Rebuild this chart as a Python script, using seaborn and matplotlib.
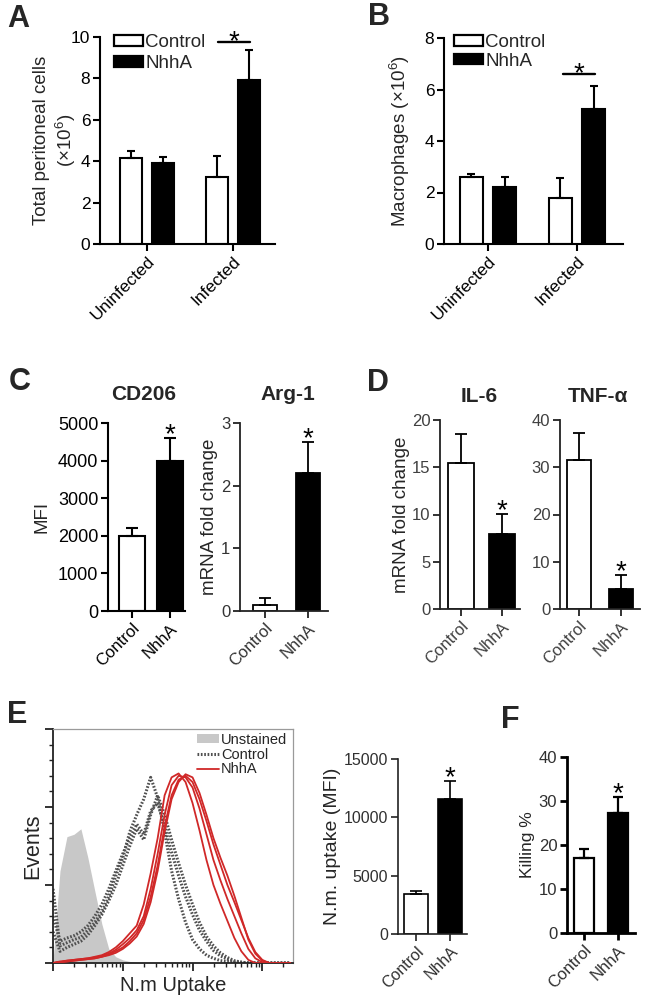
import numpy as np
import pandas as pd
import matplotlib
matplotlib.use("Agg")
import matplotlib.pyplot as plt
from matplotlib.patches import Patch
from matplotlib.lines import Line2D
import seaborn as sns

sns.set_style("ticks")
plt.rcParams["font.family"] = ["Liberation Sans", "DejaVu Sans"]
plt.rcParams["mathtext.default"] = "regular"

# ---------------- data ----------------
INFECTION = ["Uninfected", "Infected"]
GROUPS = ["Control", "NhhA"]

A_CONTROL = [4.14, 3.22]
A_CONTROL_SEM = [0.36, 1.03]
A_NHHA = [3.90, 7.92]
A_NHHA_SEM = [0.29, 1.45]

B_CONTROL = [2.59, 1.80]
B_CONTROL_SEM = [0.11, 0.75]
B_NHHA = [2.20, 5.24]
B_NHHA_SEM = [0.41, 0.91]

CD206 = [1990, 4000]
CD206_SEM = [220, 600]
ARG1 = [0.10, 2.20]
ARG1_SEM = [0.10, 0.50]
IL6 = [15.4, 7.9]
IL6_SEM = [3.1, 2.2]
TNFA = [31.5, 4.2]
TNFA_SEM = [5.8, 2.9]
UPTAKE = [3430, 11550]
UPTAKE_SEM = [280, 1560]
KILLING = [17.0, 27.3]
KILLING_SEM = [2.1, 3.7]

# flow histogram (x in decades of fluorescence, y = events)
HIST_X = [0.0, 0.1, 0.2, 0.3, 0.4, 0.5, 0.6, 0.7, 0.8, 0.9,
          1.0, 1.1, 1.2, 1.3, 1.4, 1.5, 1.6, 1.7, 1.8, 1.9,
          2.0, 2.1, 2.2, 2.3, 2.4, 2.5, 2.6, 2.7, 2.8, 2.9,
          3.0, 3.1, 3.2, 3.3, 3.4]
UNSTAINED = [2, 118, 162, 165, 172, 135, 92, 50, 18, 8,
             4, 2, 1, 0, 0, 0, 0, 0, 0, 0,
             0, 0, 0, 0, 0, 0, 0, 0, 0, 0,
             0, 0, 0, 0, 0]
CONTROL_1 = [95, 22, 26, 30, 33, 42, 52, 66, 85, 112,
             135, 168, 190, 210, 238, 212, 168, 118, 82, 52,
             30, 18, 10, 6, 3, 2, 1, 0, 0, 0,
             0, 0, 0, 0, 0]
CONTROL_2 = [60, 28, 32, 35, 40, 48, 60, 75, 95, 118,
             140, 160, 178, 165, 195, 205, 175, 142, 112, 85,
             62, 42, 28, 16, 9, 5, 2, 1, 0, 0,
             0, 0, 0, 0, 0]
CONTROL_3 = [40, 15, 20, 24, 28, 36, 48, 62, 80, 100,
             125, 150, 172, 158, 190, 215, 190, 158, 128, 100,
             75, 52, 34, 22, 13, 7, 3, 1, 0, 0,
             0, 0, 0, 0, 0]
NHHA_1 = [0, 2, 3, 4, 5, 6, 8, 10, 14, 20,
          28, 38, 48, 75, 115, 160, 215, 238, 243, 232,
          205, 170, 132, 100, 76, 54, 32, 15, 4, 0,
          0, 0, 0, 0, 0]
NHHA_2 = [0, 1, 3, 4, 5, 6, 7, 9, 12, 17,
          24, 32, 42, 60, 95, 140, 190, 228, 240, 238,
          225, 198, 165, 132, 106, 82, 60, 38, 18, 6,
          1, 0, 0, 0, 0]
NHHA_3 = [0, 1, 2, 3, 4, 5, 6, 8, 11, 15,
          20, 28, 38, 55, 85, 125, 175, 215, 235, 240,
          232, 210, 182, 152, 126, 100, 78, 55, 32, 14,
          4, 0, 0, 0, 0]
NHHA_4 = [0, 1, 2, 3, 4, 5, 6, 8, 10, 13,
          18, 25, 34, 50, 78, 118, 168, 210, 232, 242,
          238, 218, 190, 160, 135, 112, 86, 58, 30, 12,
          3, 0, 0, 0, 0]

BAR_COLORS = ["white", "black"]

# ---------------- figure ----------------
W, H = 652, 1002
fig = plt.figure(figsize=(W / 100, H / 100), dpi=100)


def add_ax(x0, y0, x1, y1):
    return fig.add_axes([x0 / W, 1 - y1 / H, (x1 - x0) / W, (y1 - y0) / H])


def style(ax, lw=1.3, color="black", labelcolor="black", size=12):
    sns.despine(ax=ax)
    for s in ["left", "bottom"]:
        ax.spines[s].set_linewidth(lw)
        ax.spines[s].set_color(color)
    ax.tick_params(axis="both", direction="out", length=5, width=lw,
                   color=color, labelcolor=labelcolor, labelsize=size, pad=2)


def add_errors(ax, sems, capsize, lw):
    for cont, s in zip(list(ax.containers), sems):
        for bar, e in zip(cont, s):
            x = bar.get_x() + bar.get_width() / 2
            y = bar.get_height()
            ax.errorbar([x], [y], yerr=[[0], [e]], fmt="none", ecolor="black",
                        elinewidth=lw, capsize=capsize, capthick=lw, zorder=1)


def star(ax, x, y, dy_pt=-3, size=20):
    ax.annotate("*", xy=(x, y), xytext=(0, dy_pt), textcoords="offset points",
                ha="center", va="baseline", fontsize=size, color="black",
                annotation_clip=False)


def grouped_panel(ax, ctrl, ctrl_sem, nhha, nhha_sem):
    df = pd.DataFrame({"infection": INFECTION * 2,
                       "group": [GROUPS[0]] * 2 + [GROUPS[1]] * 2,
                       "value": ctrl + nhha})
    sns.barplot(data=df, x="infection", y="value", hue="group",
                order=INFECTION, hue_order=GROUPS, palette=BAR_COLORS,
                edgecolor="black", linewidth=1.5, width=0.744, gap=0.31,
                errorbar=None, legend=False, ax=ax)
    add_errors(ax, [ctrl_sem, nhha_sem], capsize=3, lw=1.5)


def simple_panel(ax, vals, sems, width, capsize, lw):
    df = pd.DataFrame({"group": GROUPS, "value": vals})
    sns.barplot(data=df, x="group", y="value", hue="group", order=GROUPS,
                hue_order=GROUPS, palette=BAR_COLORS, edgecolor="black",
                linewidth=lw, width=width, errorbar=None, legend=False, ax=ax)
    add_errors(ax, [[s] for s in sems], capsize=capsize, lw=lw)


def rot_labels(ax, labels, size):
    ax.set_xticks(range(len(labels)))
    ax.set_xticklabels(labels, rotation=45, ha="right", rotation_mode="anchor",
                       fontsize=size)


legend_handles = [Patch(facecolor="white", edgecolor="black", linewidth=1.6),
                  Patch(facecolor="black", edgecolor="black", linewidth=1.6)]

# ---- Panel A ----
axA = add_ax(100, 37, 275, 244)
grouped_panel(axA, A_CONTROL, A_CONTROL_SEM, A_NHHA, A_NHHA_SEM)
style(axA, lw=1.5, size=12.5)
axA.set_ylim(0, 10)
axA.set_yticks([0, 2, 4, 6, 8, 10])
axA.set_xlim(-0.547, 1.488)
rot_labels(axA, INFECTION, 12.5)
axA.set_xlabel("")
axA.set_ylabel("Total peritoneal cells\n(×10$^{6}$)", fontsize=13.5,
               linespacing=1.2)
axA.yaxis.set_label_coords(-0.128, 0.5)
axA.plot([0.826, 1.198], [9.77, 9.77], color="black", lw=1.7, clip_on=False)
star(axA, 1.01, 9.77, dy_pt=-5)
axA.legend(legend_handles, GROUPS, loc="upper left",
           bbox_to_anchor=(114 / W, 1 - 34 / H), bbox_transform=fig.transFigure,
           frameon=False, fontsize=13.5, handlelength=1.55, handleheight=0.5,
           handletextpad=0.12, labelspacing=0.22, borderpad=0, borderaxespad=0)

# ---- Panel B ----
axB = add_ax(444, 38, 623, 244)
grouped_panel(axB, B_CONTROL, B_CONTROL_SEM, B_NHHA, B_NHHA_SEM)
style(axB, lw=1.5, size=12.5)
axB.set_ylim(0, 8)
axB.set_yticks([0, 2, 4, 6, 8])
axB.set_xlim(-0.494, 1.517)
rot_labels(axB, INFECTION, 12.5)
axB.set_xlabel("")
axB.set_ylabel("Macrophages (×10$^{6}$)", fontsize=13.5)
axB.yaxis.set_label_coords(-0.18, 0.5)
axB.plot([0.843, 1.2], [6.59, 6.59], color="black", lw=1.7, clip_on=False)
star(axB, 1.02, 6.59, dy_pt=-5)
axB.legend(legend_handles, GROUPS, loc="upper left",
           bbox_to_anchor=(454 / W, 1 - 34 / H), bbox_transform=fig.transFigure,
           frameon=False, fontsize=13.5, handlelength=1.55, handleheight=0.5,
           handletextpad=0.12, labelspacing=0.08, borderpad=0, borderaxespad=0)

# ---- Panel C ----
axC1 = add_ax(108, 423, 185, 611)
simple_panel(axC1, CD206, CD206_SEM, width=0.68, capsize=4.5, lw=1.5)
style(axC1, lw=1.5, size=13)
axC1.set_ylim(0, 5000)
axC1.set_yticks([0, 1000, 2000, 3000, 4000, 5000])
axC1.set_xlim(-0.632, 1.395)
rot_labels(axC1, GROUPS, 12)
axC1.set_xlabel("")
axC1.set_ylabel("MFI", fontsize=13.5)
axC1.yaxis.set_label_coords(-0.75, 0.5)
star(axC1, 1, CD206[1] + CD206_SEM[1], dy_pt=-3)
fig.text(144 / W, 1 - 394 / H, "CD206", ha="center", va="center",
         fontsize=15, fontweight="bold")

axC2 = add_ax(240, 423, 328, 611)
simple_panel(axC2, ARG1, ARG1_SEM, width=0.56, capsize=4, lw=1.3)
style(axC2, lw=1.3, color="#222222", labelcolor="#333333", size=12)
axC2.set_ylim(0, 3)
axC2.set_yticks([0, 1, 2, 3])
axC2.set_xlim(-0.58, 1.465)
rot_labels(axC2, GROUPS, 12)
axC2.set_xlabel("")
axC2.set_ylabel("mRNA fold change", fontsize=13.5)
axC2.yaxis.set_label_coords(-0.25, 0.5)
star(axC2, 1, ARG1[1] + ARG1_SEM[1], dy_pt=-3)
fig.text(288 / W, 1 - 394 / H, "Arg-1", ha="center", va="center",
         fontsize=15, fontweight="bold")

# ---- Panel D ----
axD1 = add_ax(440, 420, 520, 609)
simple_panel(axD1, IL6, IL6_SEM, width=0.62, capsize=4, lw=1.3)
style(axD1, lw=1.3, color="#222222", labelcolor="#404040", size=12)
axD1.set_ylim(0, 20)
axD1.set_yticks([0, 5, 10, 15, 20])
axD1.set_xlim(-0.51, 1.44)
rot_labels(axD1, GROUPS, 12)
axD1.set_xlabel("")
axD1.set_ylabel("mRNA fold change", fontsize=13.5)
axD1.yaxis.set_label_coords(-0.38, 0.5)
star(axD1, 1, IL6[1] + IL6_SEM[1], dy_pt=-3)
fig.text(479 / W, 1 - 396 / H, "IL-6", ha="center", va="center",
         fontsize=15, fontweight="bold")

axD2 = add_ax(560, 420, 640, 609)
simple_panel(axD2, TNFA, TNFA_SEM, width=0.57, capsize=4, lw=1.3)
style(axD2, lw=1.3, color="#222222", labelcolor="#404040", size=12)
axD2.set_ylim(0, 40)
axD2.set_yticks([0, 10, 20, 30, 40])
axD2.set_xlim(-0.45, 1.45)
rot_labels(axD2, GROUPS, 12)
axD2.set_xlabel("")
axD2.set_ylabel("")
star(axD2, 1, TNFA[1] + TNFA_SEM[1], dy_pt=-3)
fig.text(598 / W, 1 - 396 / H, "TNF-α", ha="center", va="center",
         fontsize=15, fontweight="bold")

# ---- Panel E: histogram ----
axH = add_ax(53, 729, 293, 963)
axH.fill_between(HIST_X, UNSTAINED, color="#c8c8c8", lw=0, zorder=1)
for curve in [CONTROL_1, CONTROL_2, CONTROL_3]:
    sns.lineplot(x=HIST_X, y=curve, ax=axH, color="#505050", lw=2.2,
                 linestyle=(0, (0.55, 0.55)), estimator=None, zorder=2)
for curve in [NHHA_1, NHHA_2, NHHA_3, NHHA_4]:
    sns.lineplot(x=HIST_X, y=curve, ax=axH, color="#d02828", lw=1.3,
                 estimator=None, zorder=3)
axH.set_xlim(0, 3.44)
axH.set_ylim(0, 300)
axH.set_xticks([0, 1, 2, 3])
minor = [d + np.log10(k) for d in range(4) for k in range(2, 10)
         if d + np.log10(k) < 3.44]
axH.set_xticks(minor, minor=True)
axH.set_yticks([0, 100, 200, 300])
axH.set_yticks(list(range(0, 301, 20)), minor=True)
axH.tick_params(labelbottom=False, labelleft=False)
axH.tick_params(which="major", direction="out", length=6, width=1.3,
                color="#222222")
axH.tick_params(which="minor", direction="out", length=3, width=1.0,
                color="#222222")
for s in ["left", "bottom"]:
    axH.spines[s].set_color("#222222")
    axH.spines[s].set_linewidth(1.3)
for s in ["top", "right"]:
    axH.spines[s].set_color("#9a9a9a")
    axH.spines[s].set_linewidth(0.9)
axH.set_xlabel("N.m Uptake", fontsize=14.5)
axH.xaxis.set_label_coords(0.5, -0.055)
axH.set_ylabel("Events", fontsize=15.5)
axH.yaxis.set_label_coords(-0.04, 0.5)
hist_handles = [Patch(facecolor="#c8c8c8", edgecolor="none"),
                Line2D([], [], color="#505050", lw=2.2, linestyle=(0, (0.55, 0.55))),
                Line2D([], [], color="#d02828", lw=1.3)]
axH.legend(hist_handles, ["Unstained", "Control", "NhhA"], loc="upper left",
           bbox_to_anchor=(197 / W, 1 - 733 / H), bbox_transform=fig.transFigure,
           frameon=False, fontsize=10.5, handlelength=1.5, handleheight=0.6,
           handletextpad=0.15, labelspacing=0.05, borderpad=0, borderaxespad=0)

# ---- Panel E: bar ----
axE = add_ax(398, 759, 467, 934)
simple_panel(axE, UPTAKE, UPTAKE_SEM, width=0.68, capsize=4.3, lw=1.2)
style(axE, lw=1.2, color="#222222", labelcolor="#303030", size=11.5)
axE.set_ylim(0, 15000)
axE.set_yticks([0, 5000, 10000, 15000])
axE.set_xlim(-0.53, 1.5)
rot_labels(axE, GROUPS, 11.5)
axE.set_xlabel("")
axE.set_ylabel("N.m. uptake (MFI)", fontsize=14)
axE.yaxis.set_label_coords(-0.82, 0.5)
star(axE, 1, UPTAKE[1] + UPTAKE_SEM[1], dy_pt=-3)

# ---- Panel F ----
axF = add_ax(567, 757, 635, 933)
simple_panel(axF, KILLING, KILLING_SEM, width=0.56, capsize=3.5, lw=1.6)
style(axF, lw=2.0, color="black", labelcolor="#303030", size=12)
axF.set_ylim(0, 40)
axF.set_yticks([0, 10, 20, 30, 40])
axF.set_xlim(-0.5, 1.5)
rot_labels(axF, GROUPS, 12)
axF.set_xlabel("")
axF.set_ylabel("Killing %", fontsize=12.5)
axF.yaxis.set_label_coords(-0.47, 0.5)
star(axF, 1, KILLING[1] + KILLING_SEM[1], dy_pt=-3)

# ---- panel letters ----
for letter, (x, y) in {"A": (18, 19), "B": (379, 17), "C": (20, 382),
                       "D": (378, 383), "E": (17, 715), "F": (510, 720)}.items():
    fig.text(x / W, 1 - y / H, letter, ha="center", va="center",
             fontsize=22, fontweight="bold")

fig.savefig("out.png", dpi=100)
